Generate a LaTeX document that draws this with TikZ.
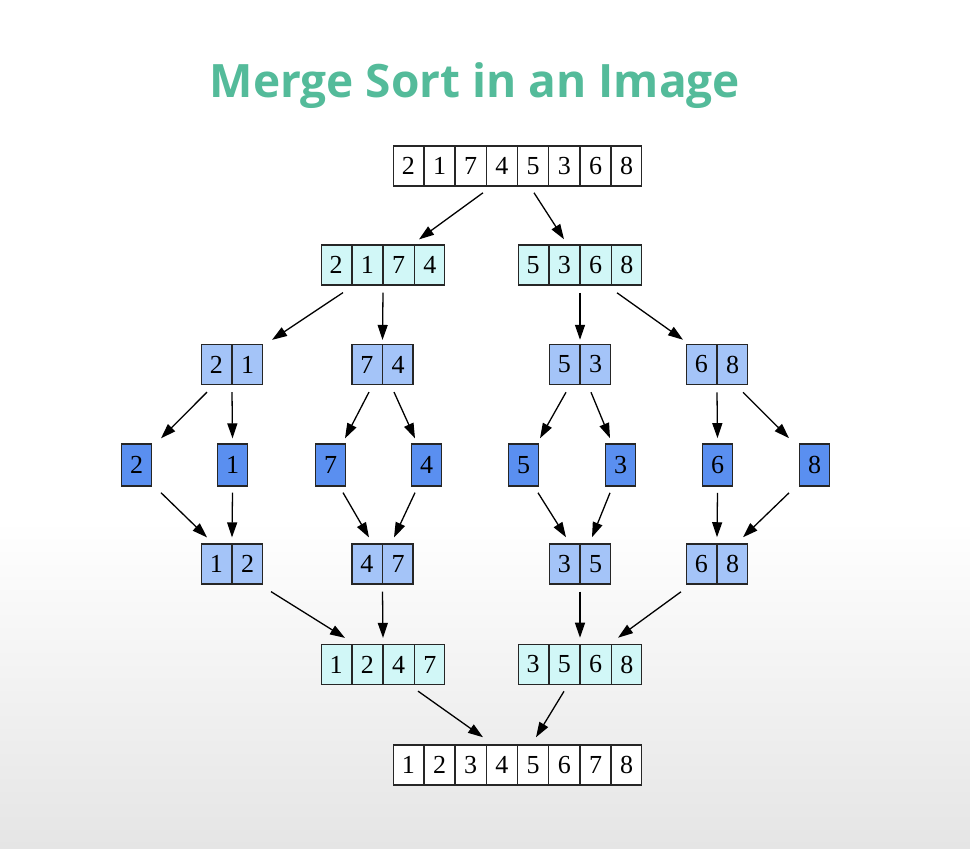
\documentclass[tikz,border=0pt]{standalone}
\usepackage{fontspec}
\setmainfont{Liberation Serif}
\newfontfamily\titlefont{Open Sans}
\usetikzlibrary{shapes.multipart,arrows.meta,calc}

\definecolor{titlegreen}{RGB}{84,187,154}
\definecolor{halfcyan}{RGB}{209,247,247}
\definecolor{quartblue}{RGB}{164,196,248}
\definecolor{singleblue}{RGB}{90,143,240}
\definecolor{floorgray}{RGB}{229,229,229}

\begin{document}
\begin{tikzpicture}[
    x=0.5pt, y=-0.5pt,
    rec/.style={rectangle split, rectangle split horizontal, draw=black!85, line width=0.7pt,
        inner xsep=4.2pt, inner ysep=5.65pt, font=\rmfamily\fontsize{13}{13}\selectfont},
    whole/.style={rec, fill=white},
    half/.style={rec, fill=halfcyan},
    quarter/.style={rec, fill=quartblue},
    single/.style={rec, rectangle split parts=1, fill=singleblue, inner ysep=6.2pt},
    edge/.style={line width=0.65pt, -{Triangle[length=7.5pt,width=5pt]}}
]

% hintergrund
\useasboundingbox (0,0) rectangle (970,848);
\fill[white] (0,0) rectangle (970,848);
\shade[top color=white, bottom color=floorgray] (0,520) rectangle (970,848);

% titel
\node[font=\titlefont\bfseries\fontsize{23}{23}\selectfont, text=titlegreen] (title) at (475,86) {Merge Sort in an Image};

% zerlegen
\node[whole, rectangle split parts=8] (top) at (517.5,166) {2\nodepart{two}1\nodepart{three}7\nodepart{four}4\nodepart{five}5\nodepart{six}3\nodepart{seven}6\nodepart{eight}8};

\node[half, rectangle split parts=4] (s2174) at (383,265) {2\nodepart{two}1\nodepart{three}7\nodepart{four}4};
\node[half, rectangle split parts=4] (s5368) at (580,265) {5\nodepart{two}3\nodepart{three}6\nodepart{four}8};

\node[quarter, rectangle split parts=2] (s21) at (232,364.5) {2\nodepart{two}1};
\node[quarter, rectangle split parts=2] (s74) at (382.5,364.5) {7\nodepart{two}4};
\node[quarter, rectangle split parts=2] (s53) at (580,364.5) {5\nodepart{two}3};
\node[quarter, rectangle split parts=2] (s68) at (717,364.5) {6\nodepart{two}8};

% einzelne
\node[single] (n2) at (136.5,465) {2};
\node[single] (n1) at (232.5,465) {1};
\node[single] (n7) at (330.5,465) {7};
\node[single] (n4) at (426.5,465) {4};
\node[single] (n5) at (523.5,465) {5};
\node[single] (n3) at (620.5,465) {3};
\node[single] (n6) at (717.5,465) {6};
\node[single] (n8) at (814.5,465) {8};

% zusammenfuehren
\node[quarter, rectangle split parts=2] (m12) at (232,564) {1\nodepart{two}2};
\node[quarter, rectangle split parts=2] (m47) at (382.5,564) {4\nodepart{two}7};
\node[quarter, rectangle split parts=2] (m35) at (580,564) {3\nodepart{two}5};
\node[quarter, rectangle split parts=2] (m68) at (717,564) {6\nodepart{two}8};

\node[half, rectangle split parts=4] (m1247) at (383,664.5) {1\nodepart{two}2\nodepart{three}4\nodepart{four}7};
\node[half, rectangle split parts=4] (m3568) at (580,664.5) {3\nodepart{two}5\nodepart{three}6\nodepart{four}8};

\node[whole, rectangle split parts=8] (sorted) at (517.5,765) {1\nodepart{two}2\nodepart{three}3\nodepart{four}4\nodepart{five}5\nodepart{six}6\nodepart{seven}7\nodepart{eight}8};

% pfeile beim zerlegen
\draw[edge] ($(top.south)+(-34.5,6)$) -- ($(s2174.north)+(36,-5)$);
\draw[edge] ($(top.south)+(16.5,6)$) -- ($(s5368.north)+(-16,-5)$);
\draw[edge] ($(s2174.south)+(-40,7)$) -- ($(s21.north)+(40,-4)$);
\draw[edge] ($(s2174.south)+(0,7)$) -- ($(s74.north)+(0,-4)$);
\draw[edge] ($(s5368.south)+(0,7)$) -- ($(s53.north)+(0,-4)$);
\draw[edge] ($(s5368.south)+(37,7)$) -- ($(s68.north)+(-34,-4)$);
\draw[edge] ($(s21.south)+(-25,7)$) -- ($(n2.north)+(24.5,-5)$);
\draw[edge] ($(s21.south)+(0,7)$) -- ($(n1.north)+(0,-5)$);
\draw[edge] ($(s74.south)+(-13.5,7)$) -- ($(n7.north)+(14.5,-5)$);
\draw[edge] ($(s74.south)+(11.5,7)$) -- ($(n4.north)+(-11.5,-5)$);
\draw[edge] ($(s53.south)+(-14,7)$) -- ($(n5.north)+(16.5,-5)$);
\draw[edge] ($(s53.south)+(11,7)$) -- ($(n3.north)+(-10.5,-5)$);
\draw[edge] ($(s68.south)+(0,7)$) -- ($(n6.north)+(0,-5)$);
\draw[edge] ($(s68.south)+(26,7)$) -- ($(n8.north)+(-25.5,-5)$);

% pfeile beim zusammenfuehren
\draw[edge] ($(n2.south)+(24.5,6)$) -- ($(m12.north)+(-25,-6)$);
\draw[edge] ($(n1.south)+(0,6)$) -- ($(m12.north)+(0,-6)$);
\draw[edge] ($(n7.south)+(12.5,6)$) -- ($(m47.north)+(-13.5,-6)$);
\draw[edge] ($(n4.south)+(-11.5,6)$) -- ($(m47.north)+(11.5,-6)$);
\draw[edge] ($(n5.south)+(14.5,6)$) -- ($(m35.north)+(-14,-6)$);
\draw[edge] ($(n3.south)+(-10.5,6)$) -- ($(m35.north)+(12,-6)$);
\draw[edge] ($(n6.south)+(0,6)$) -- ($(m68.north)+(0,-6)$);
\draw[edge] ($(n8.south)+(-25.5,6)$) -- ($(m68.north)+(26,-6)$);
\draw[edge] ($(m12.south)+(39,7)$) -- ($(m1247.north)+(-38,-6)$);
\draw[edge] ($(m47.south)+(0,7)$) -- ($(m1247.north)+(0,-6)$);
\draw[edge] ($(m35.south)+(0,7)$) -- ($(m3568.north)+(0,-6)$);
\draw[edge] ($(m68.south)+(-36,7)$) -- ($(m3568.north)+(38,-6)$);
\draw[edge] ($(m1247.south)+(35,6)$) -- ($(sorted.north)+(-34.5,-7)$);
\draw[edge] ($(m3568.south)+(-16,6)$) -- ($(sorted.north)+(18.5,-7)$);

\end{tikzpicture}
\end{document}
